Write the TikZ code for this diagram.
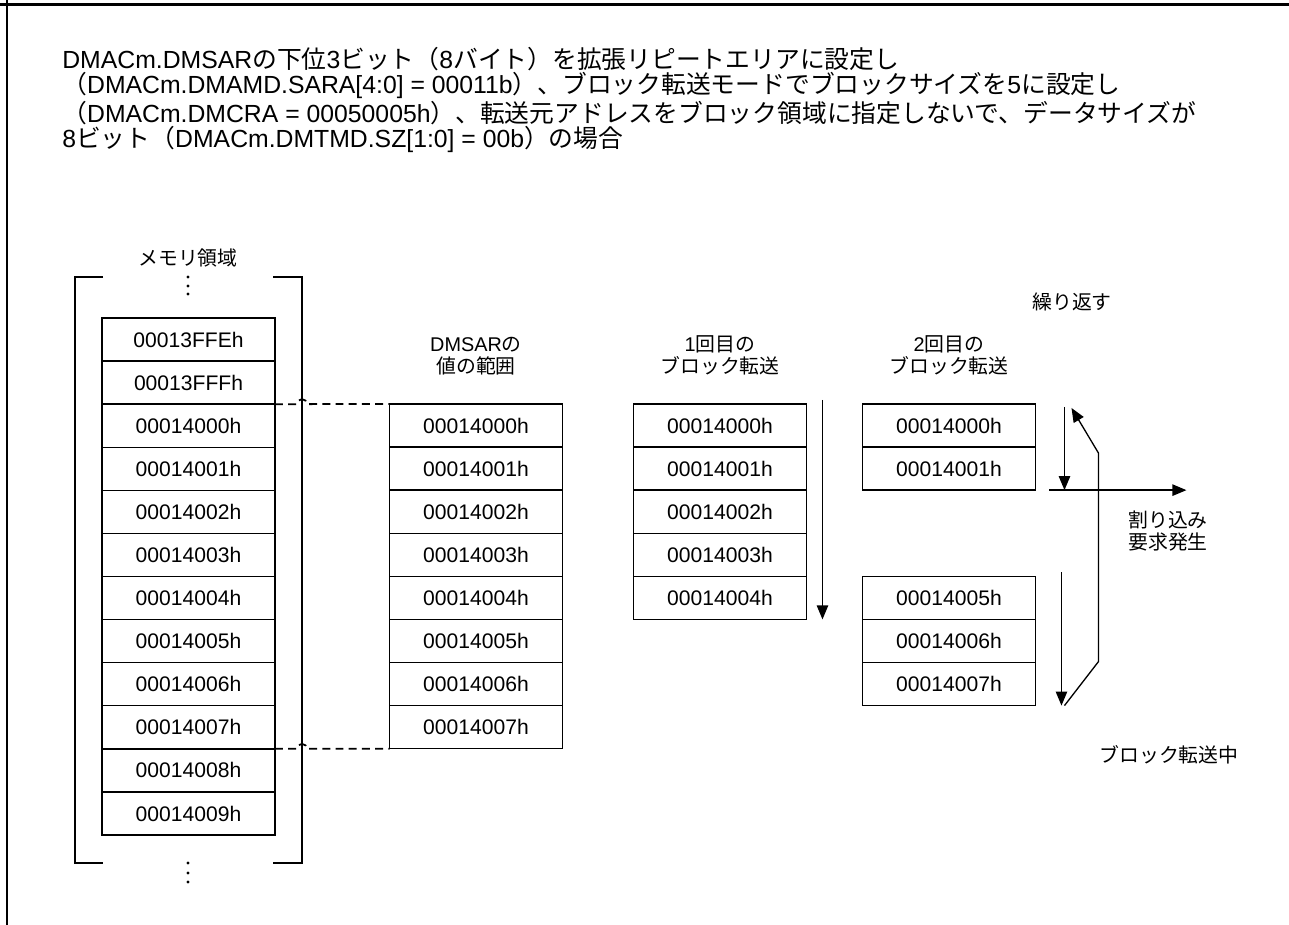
\documentclass[tikz,border=0pt]{standalone}
\usepackage{fontspec}
\setmainfont{Liberation Sans}
\newfontfamily\jpfont{Noto Sans CJK JP}
\usetikzlibrary{positioning,arrows.meta}

\begin{document}
\begin{tikzpicture}[x=0.02cm, y=-0.02cm,
      every node/.style={font=\fontsize{11.3}{12.5}\selectfont},
      cell/.style={draw, line width=0.75pt, minimum width=3.46cm,
        minimum height=0.862cm, inner sep=0pt, outer sep=0pt,
        font=\fontsize{12}{14}\selectfont},
      flow/.style={line width=0.75pt, -{Triangle[length=8pt,width=6.5pt]}},
      rangeline/.style={line width=1pt, dash pattern=on 4.5pt off 3pt},
      bracket/.style={line width=1.7pt},
      node distance=0pt]
    \useasboundingbox (0,0) rectangle (1289,925);
    \draw[line width=1.7pt] (0,4.5) -- (1289,4.5);
    \draw[line width=1.7pt] (7,0) -- (7,925);

    \node[anchor=west, align=left, inner sep=0pt, font=\fontsize{14.1}{14.4}\selectfont] (title) at (62,100)
      {DMACm.DMSAR{\jpfont の下位}3{\jpfont ビット（}8{\jpfont バイト）を拡張リピートエリアに設定し}\\
       {\jpfont （}DMACm.DMAMD.SARA[4:0] = 00011b{\jpfont ）、ブロック転送モードでブロックサイズを}5{\jpfont に設定し}\\
       {\jpfont （}DMACm.DMCRA = 00050005h{\jpfont ）、転送元アドレスをブロック領域に指定しないで、データサイズが}\\
       8{\jpfont ビット（}DMACm.DMTMD.SZ[1:0] = 00b{\jpfont ）の場合}};

    % memory area
    \node (memlabel) at (188,258) {{\jpfont メモリ領域}};
    \node[cell] (mem0) at (188.5,339.5) {00013FFEh};
    \node[cell, below=of mem0] (mem1) {00013FFFh};
    \foreach \i [remember=\i as \last (initially 1)] in {2,...,11} {
      \pgfmathtruncatemacro\addr{\i-2}
      \node[cell, below=of mem\last] (mem\i) {0001400\addr h};
    }
    \draw[bracket] (103,277) -- (75,277) -- (75,863) -- (103,863);
    \draw[bracket] (273,277) -- (302,277) -- (302,863) -- (273,863);
    \foreach \y in {277,286,294,863,873,882}
      \fill (188,\y) circle (0.95pt);

    % DMSAR range
    \node[cell] (sar0) at (476,425.5) {00014000h};
    \foreach \i [remember=\i as \last (initially 0)] in {1,...,7}
      \node[cell, below=of sar\last] (sar\i) {0001400\i h};
    \node[align=center, above=0.45cm of sar0] (sarlabel) {DMSAR{\jpfont の}\\{\jpfont 値の範囲}};
    \draw[rangeline] (mem2.north east) -- ++(22,0) arc (180:360:5) -- (sar0.north west);
    \draw[rangeline] (mem9.south east) -- ++(22,0) arc (180:360:5) -- (sar7.south west);

    % first block transfer
    \node[cell] (first0) at (720,425.5) {00014000h};
    \foreach \i [remember=\i as \last (initially 0)] in {1,...,4}
      \node[cell, below=of first\last] (first\i) {0001400\i h};
    \node[align=center, above=0.45cm of first0] (firstlabel) {1{\jpfont 回目の}\\{\jpfont ブロック転送}};
    \draw[flow] ([xshift=0.32cm, yshift=0.08cm]first0.north east) -- ([xshift=0.32cm]first4.south east);

    % second block transfer
    \node[cell] (second0) at (949,425.5) {00014000h};
    \node[cell, below=of second0] (second1) {00014001h};
    \node[cell, below=1.724cm of second1] (second5) {00014005h};
    \node[cell, below=of second5] (second6) {00014006h};
    \node[cell, below=of second6] (second7) {00014007h};
    \node[align=center, above=0.45cm of second0] (secondlabel) {2{\jpfont 回目の}\\{\jpfont ブロック転送}};
    \draw[flow] ([xshift=0.58cm, yshift=-0.06cm]second0.north east) -- ([xshift=0.58cm]second1.south east);
    \draw[flow] ([xshift=0.52cm, yshift=0.08cm]second5.north east) -- ([xshift=0.52cm]second7.south east);
    \draw[flow] ([xshift=0.28cm]second1.south east) -- ([xshift=3.02cm]second1.south east);
    \draw[flow] ([xshift=0.58cm]second7.south east) -- ([xshift=1.26cm, yshift=0.88cm]second7.south east)
      -- ([xshift=1.26cm, yshift=-0.12cm]second0.south east) -- ([xshift=0.72cm, yshift=-0.08cm]second0.north east);

    \node (repeat) at (1072,302) {{\jpfont 繰り返す}};
    \node[align=center] (irq) at (1168,531) {{\jpfont 割り込み}\\{\jpfont 要求発生}};
    \node (busy) at (1169,755) {{\jpfont ブロック転送中}};
\end{tikzpicture}
\end{document}
